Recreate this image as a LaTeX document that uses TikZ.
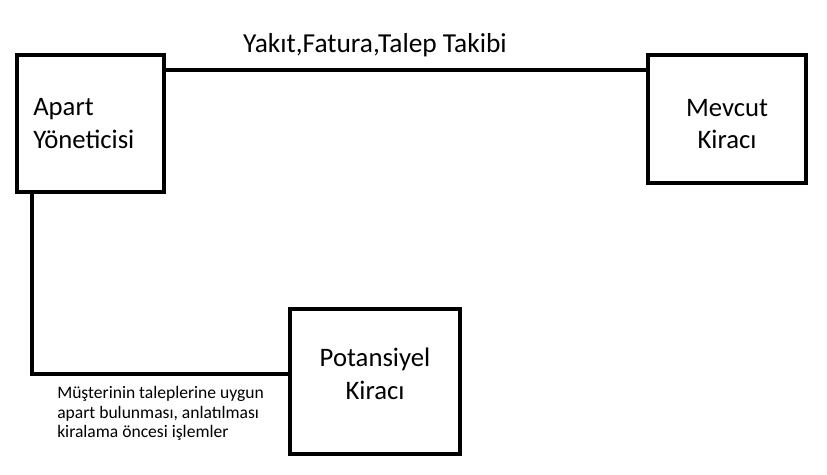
\documentclass[tikz,border=0pt]{standalone}
\usepackage{fontspec}
\setmainfont{Carlito}
\usepackage{tikz}

\begin{document}
\begin{tikzpicture}[x=0.02cm, y=-0.02cm, line width=0.09cm,
	every node/.style={font=\fontsize{15.2}{18.6}\selectfont, inner sep=0pt},
	kutu/.style={draw},
	yazi/.style={align=center}]
	\useasboundingbox (0,0) rectangle (827,475);
	\node[kutu, minimum width=2.94cm, minimum height=2.74cm] (apart) at (90.5,123.5) {};
	\node[kutu, minimum width=3.16cm, minimum height=2.56cm] (mevcut) at (727,119) {};
	\node[kutu, minimum width=3.4cm, minimum height=2.9cm] (potansiyel) at (375,381.5) {};
	\node[yazi, align=left, anchor=west] (apartyazi) at (31,123.5) {Apart\\Yöneticisi};
	\node[yazi] (mevcutyazi) at (727,124) {Mevcut\\Kiracı};
	\node[yazi] (potansiyelyazi) at (375,373.5) {Potansiyel\\Kiracı};
	\coordinate (ust) at (0,70);
	\coordinate (dirsek) at (32,374);
	\draw (apart.east |- ust) -- (mevcut.west |- ust);
	\node[anchor=base, font=\fontsize{15.6}{18.6}\selectfont] (takip) at (375,53) {Yakıt,Fatura,Talep Takibi};
	\draw (apart.south -| dirsek) |- (potansiyel.west |- dirsek);
	\node[anchor=base west, align=left, font=\fontsize{10}{11.3}\selectfont] (aciklama) at (55,438) {Müşterinin taleplerine uygun\\apart bulunması, anlatılması\\kiralama öncesi işlemler};
\end{tikzpicture}
\end{document}
